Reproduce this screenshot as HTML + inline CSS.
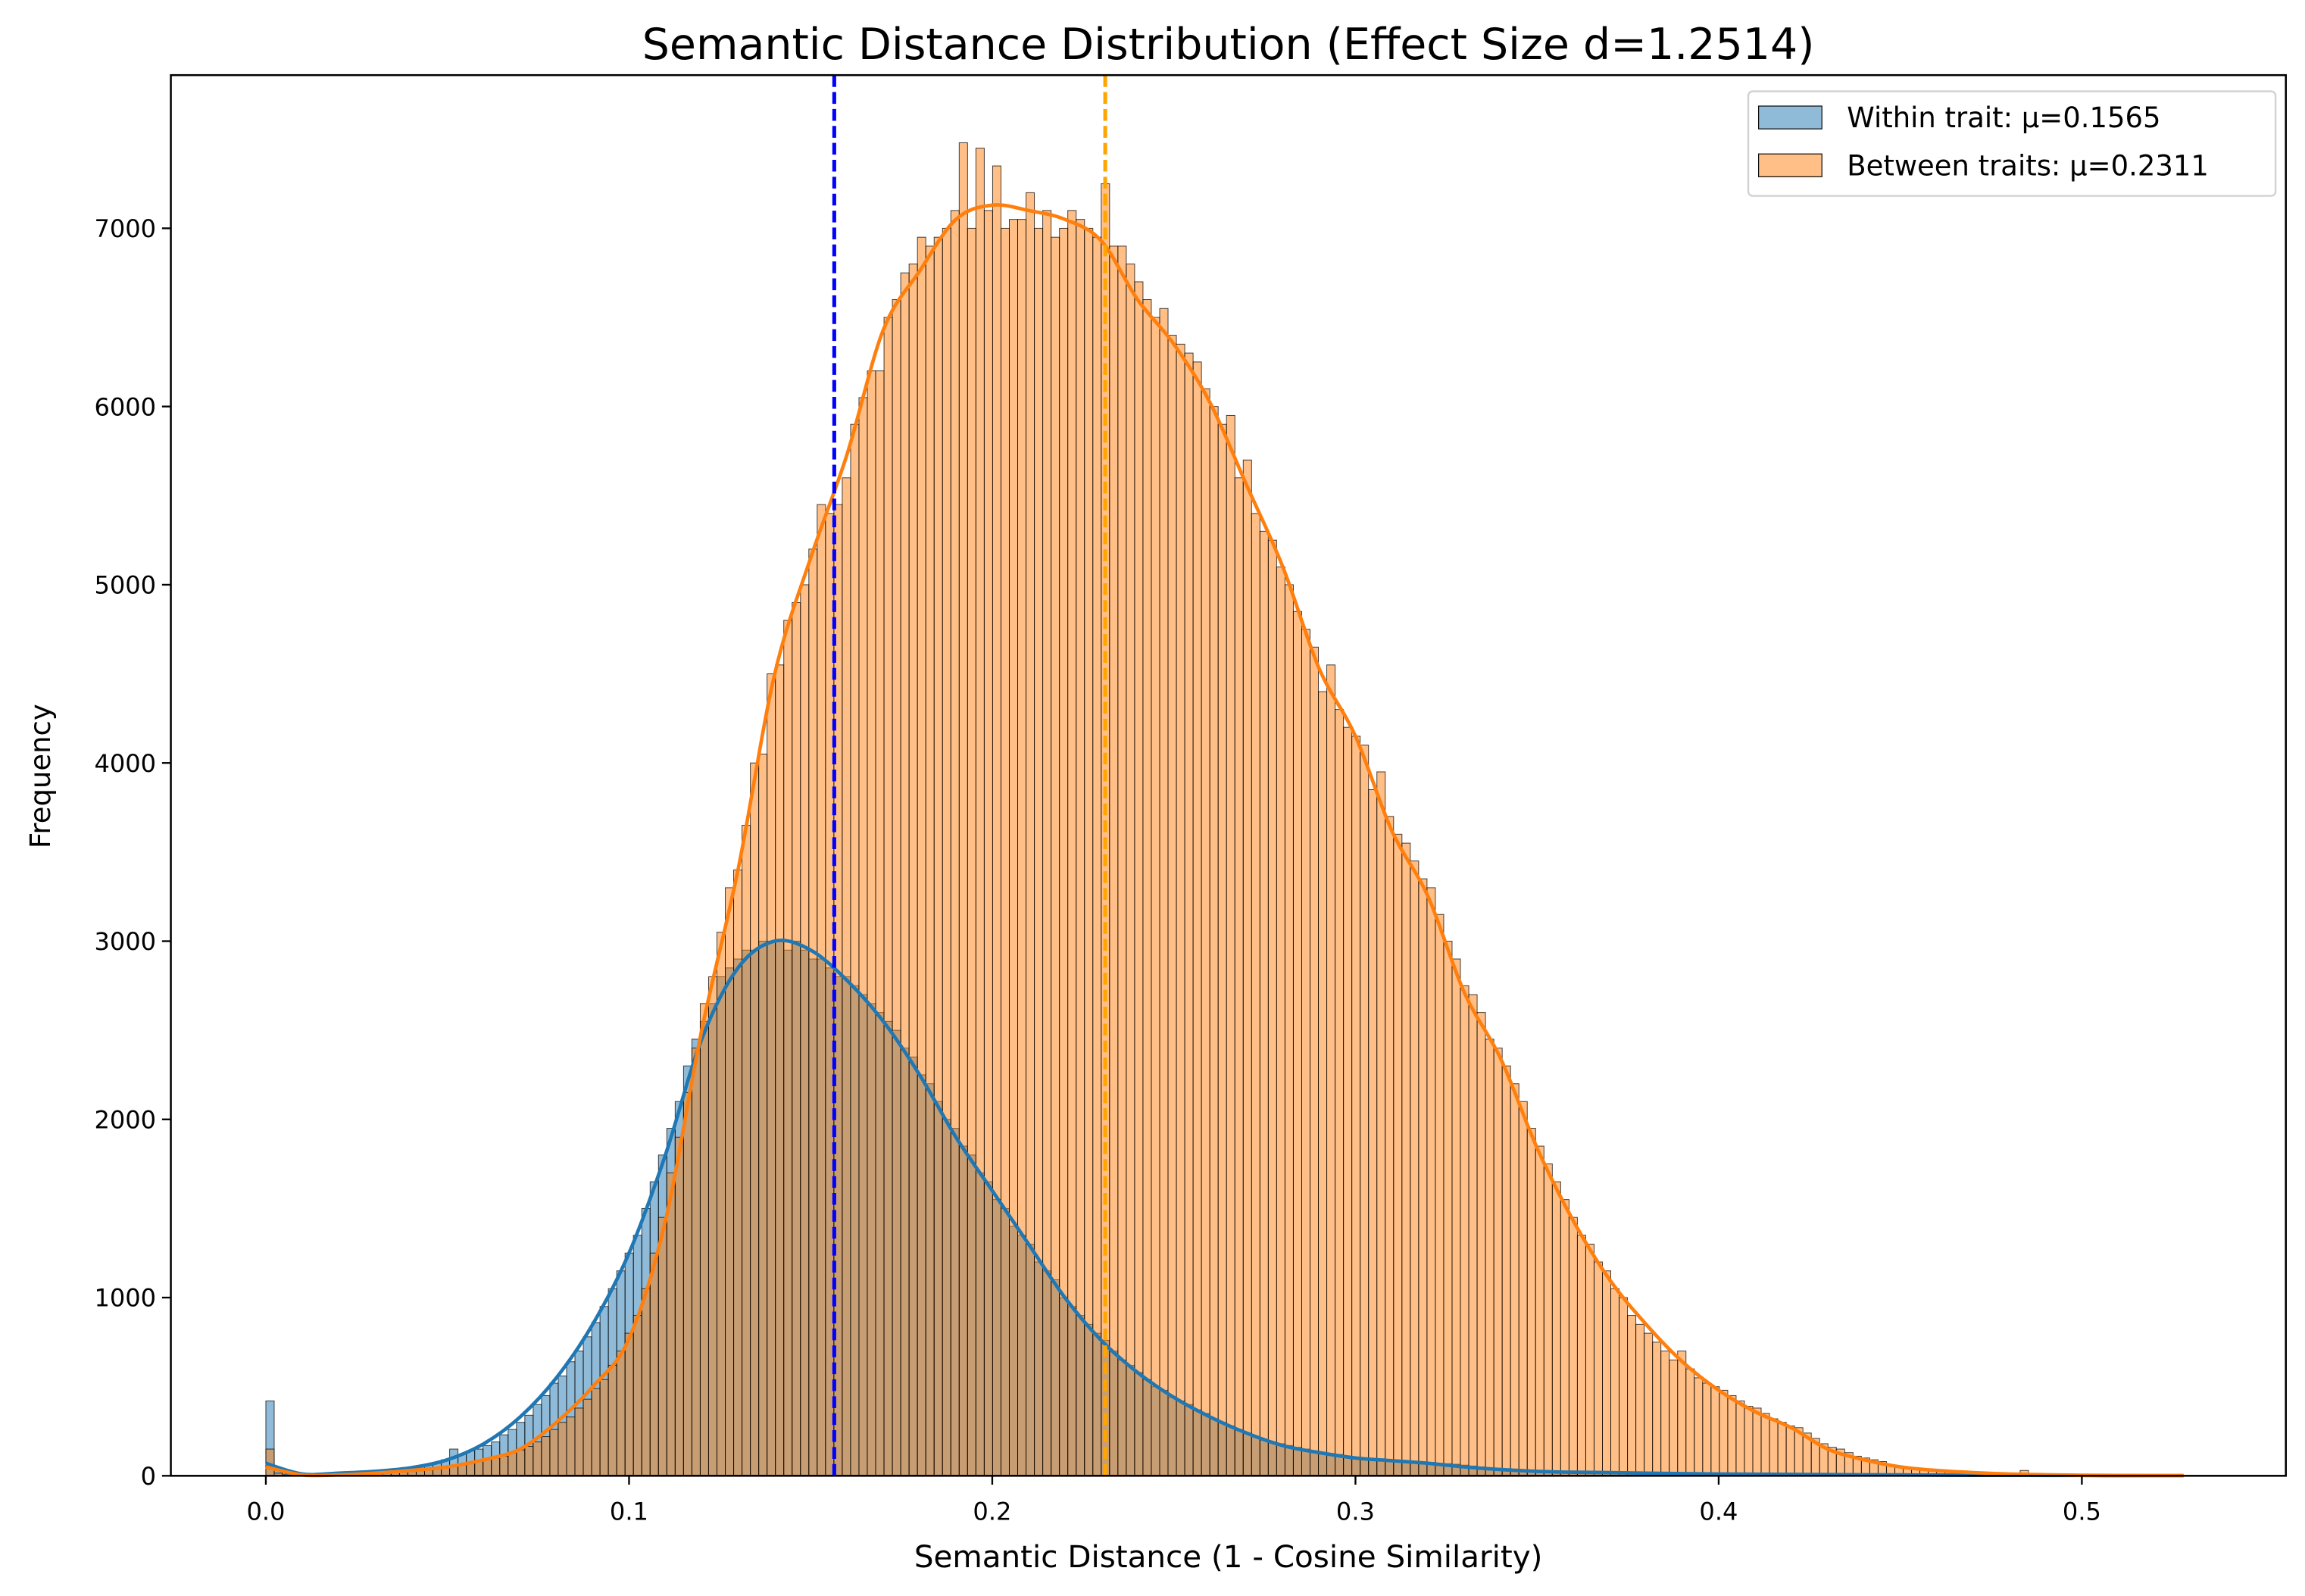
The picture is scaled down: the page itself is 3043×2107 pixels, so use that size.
<!DOCTYPE html>
<html><head><meta charset="utf-8"><style>
html,body{margin:0;padding:0;background:#fff}
svg{display:block;font-family:"DejaVu Sans","Liberation Sans",sans-serif}
</style></head><body>
<svg id="chart" width="3043" height="2107" viewBox="0 0 1565 1083.6" xmlns="http://www.w3.org/2000/svg">
<rect x="0" y="0" width="1565" height="1084" fill="#fff"/>
<g id="bars-within"></g>
<g id="bars-between"></g>
<g id="kde"></g>
<g id="means"></g>
<g id="axes"></g>
<text x="834" y="40" font-size="29.3" text-anchor="middle">Semantic Distance Distribution (Effect Size d=1.2514)</text>
<text x="834" y="1064" font-size="20.8" text-anchor="middle">Semantic Distance (1 - Cosine Similarity)</text>
<text transform="translate(34,527) rotate(-90)" font-size="19" text-anchor="middle">Frequency</text>
<g>
<rect x="1187" y="62" width="358" height="71" rx="3" fill="#fff" fill-opacity="0.8" stroke="#d0d0d0" stroke-width="1.2"/>
<rect x="1194" y="72" width="43" height="15.5" fill="#1f77b4" fill-opacity="0.5" stroke="#000" stroke-width="0.6"/>
<text x="1254" y="86.5" font-size="19">Within trait: μ=0.1565</text>
<rect x="1194" y="104.5" width="43" height="15.5" fill="#ff7f0e" fill-opacity="0.5" stroke="#000" stroke-width="0.6"/>
<text x="1254" y="119" font-size="19">Between traits: μ=0.2311</text>
</g>
</svg>
<script>
const binWidth = 0.0023;
const withinCounts = [420,40,10,10,12,12,15,15,18,20,
20,22,25,28,30,35,40,45,55,60,
70,90,150,120,140,150,170,190,230,260,
300,340,400,450,520,560,640,700,780,860,
950,1050,1150,1250,1350,1500,1650,1800,1950,2100,
2300,2450,2550,2650,2800,2850,2900,2950,2950,3000,
3000,3000,2950,3000,2950,2900,2900,2850,2800,2800,
2750,2700,2650,2600,2550,2500,2400,2350,2250,2200,
2100,2000,1950,1850,1800,1700,1650,1550,1500,1400,
1350,1300,1200,1150,1100,1000,950,900,850,800,
760,700,650,620,580,540,500,480,440,420,
400,370,350,320,300,280,260,240,220,200,
190,180,170,160,150,140,130,125,120,110,
105,100,95,90,88,85,82,80,78,75,
70,68,65,60,55,50,45,42,40,38,
35,33,30,28,26,25,24,22,20,20,
19,18,17,16,15,15,14,14,13,13,
12,12,11,11,10,10,9,9,8,8,
7,7,6,6,6,5,5,5,4,4,
4,3,3,3,3,2,2,2,2,2,
2,2,1,1,1,1,1,1,1,1,
1,1,1,1,0,0,0,0,0,0,
0,0,0,0,0,0,0,0,0,0];
const betweenCounts = [150,15,4,3,2,2,3,4,5,6,
8,10,12,14,16,18,20,24,28,32,
40,45,50,60,70,80,90,100,110,130,
145,165,190,220,260,300,330,380,430,490,
540,620,700,800,900,1050,1250,1450,1700,1900,
2150,2400,2650,2800,3050,3300,3400,3650,4000,4050,
4500,4550,4800,4900,5000,5200,5450,5400,5450,5600,
5900,6050,6200,6200,6500,6600,6750,6800,6950,6900,
6950,7000,7100,7480,7000,7450,7100,7350,7000,7050,
7050,7200,7000,7100,6950,7000,7100,7050,7000,6950,
7250,6900,6900,6800,6700,6600,6500,6550,6400,6350,
6300,6250,6100,6000,5900,5950,5600,5700,5400,5300,
5250,5100,5000,4850,4750,4650,4400,4550,4300,4200,
4150,4100,3850,3950,3700,3600,3550,3450,3350,3300,
3150,3000,2900,2750,2700,2600,2450,2400,2300,2200,
2100,1950,1850,1750,1650,1550,1450,1350,1300,1200,
1150,1050,1000,900,850,800,750,700,650,700,
600,550,520,500,480,450,420,390,380,350,
320,300,280,270,240,210,180,160,150,130,
110,100,90,80,60,50,45,40,35,30,
25,22,20,18,15,13,12,10,9,8,
30,7,6,5,4,4,3,3,2,2,
2,2,1,1,1,1,1,1,0,0];
const kdeX = [0,0.01,0.02,0.03,0.04,0.05,0.06,0.07,0.08,0.09,0.10,0.11,0.12,0.13,0.14,0.15,0.16,0.17,0.18,0.19,0.20,0.21,0.22,0.23,0.24,0.25,0.26,0.27,0.28,0.29,0.30,0.31,0.32,0.33,0.34,0.35,0.36,0.37,0.38,0.39,0.40,0.41,0.42,0.43,0.44,0.45,0.46,0.47,0.48,0.49,0.50,0.51,0.52,0.528];
const kdeWithin = [70,10,15,25,45,90,180,330,550,850,1250,1800,2450,2850,3000,2950,2780,2550,2250,1900,1600,1300,1000,760,580,440,330,240,170,130,100,85,70,50,35,25,20,18,15,12,10,9,8,7,6,5,4,3,3,2,2,1,1,1];
const kdeBetween = [50,5,5,15,30,50,90,150,300,500,770,1430,2500,3400,4490,5150,5730,6430,6760,7050,7130,7100,7050,6930,6600,6350,6020,5560,5100,4530,4150,3620,3250,2710,2340,1840,1430,1100,850,640,480,360,270,150,90,50,30,18,10,6,3,2,1,1];
const meanValues = [0.1565, 0.2311];
const xTicks = [0.0,0.1,0.2,0.3,0.4,0.5];
const xTickLabels = ["0.0","0.1","0.2","0.3","0.4","0.5"];
const yTicks = [0,1000,2000,3000,4000,5000,6000,7000];
const yTickLabels = ["0","1000","2000","3000","4000","5000","6000","7000"];

const NS='http://www.w3.org/2000/svg';
const L=116,R=1552,T=51,B=1002;
function X(v){return 180.5+v*2466;}
function Y(f){return B-f*0.121;}
function mk(tag,attrs,parent){const e=document.createElementNS(NS,tag);for(const k in attrs)e.setAttribute(k,attrs[k]);parent.appendChild(e);return e;}

function drawBars(gid,counts,color,name){
  const g=document.getElementById(gid);
  counts.forEach((c,i)=>{
    if(c<=0)return;
    const x0=X(i*binWidth),x1=X((i+1)*binWidth);
    const r=mk('rect',{x:x0,y:Y(c),width:x1-x0,height:B-Y(c),fill:color,'fill-opacity':0.5,stroke:'#000','stroke-width':0.5,'stroke-opacity':0.75},g);
    
    
  });
}
drawBars('bars-within',withinCounts,'#1f77b4','within-bar');
drawBars('bars-between',betweenCounts,'#ff7f0e','between-bar');

function smoothPath(xs,ys){
  const p=xs.map((v,i)=>[X(v),Y(ys[i])]);
  let d='M'+p[0][0]+','+p[0][1];
  for(let i=0;i<p.length-1;i++){
    const p0=p[Math.max(0,i-1)],p1=p[i],p2=p[i+1],p3=p[Math.min(p.length-1,i+2)];
    const c1=[p1[0]+(p2[0]-p0[0])/6,p1[1]+(p2[1]-p0[1])/6];
    const c2=[p2[0]-(p3[0]-p1[0])/6,p2[1]-(p3[1]-p1[1])/6];
    d+=' C'+c1[0]+','+c1[1]+' '+c2[0]+','+c2[1]+' '+p2[0]+','+p2[1];
  }
  return d;
}
const kg=document.getElementById('kde');
const k1=mk('path',{d:smoothPath(kdeX,kdeWithin),fill:'none',stroke:'#1f77b4','stroke-width':2.4},kg);


const k2=mk('path',{d:smoothPath(kdeX,kdeBetween),fill:'none',stroke:'#ff7f0e','stroke-width':2.4},kg);



const mg=document.getElementById('means');
const m1=mk('line',{x1:X(meanValues[0]),x2:X(meanValues[0]),y1:T,y2:B,stroke:'#0000ff','stroke-width':2.6,'stroke-dasharray':'8,3.5'},mg);


const m2=mk('line',{x1:X(meanValues[1]),x2:X(meanValues[1]),y1:T,y2:B,stroke:'#ffa500','stroke-width':2.6,'stroke-dasharray':'8,3.5'},mg);



const ag=document.getElementById('axes');
const frame=mk('rect',{x:L,y:T,width:R-L,height:B-T,fill:'none',stroke:'#000','stroke-width':1.3},ag);


xTicks.forEach((v,i)=>{
  const t=mk('line',{x1:X(v),x2:X(v),y1:B,y2:B+6,stroke:'#000','stroke-width':1.2},ag);
  
  
  const tx=mk('text',{x:X(v),y:1032,'font-size':16.5,'text-anchor':'middle'},ag);
  tx.textContent=xTickLabels[i];
  
  
});
yTicks.forEach((v,i)=>{
  const t=mk('line',{x1:L-6,x2:L,y1:Y(v),y2:Y(v),stroke:'#000','stroke-width':1.2},ag);
  
  
  const tx=mk('text',{x:L-10,y:Y(v)+6,'font-size':16.5,'text-anchor':'end'},ag);
  tx.textContent=yTickLabels[i];
  
  
});
</script>
</body></html>
